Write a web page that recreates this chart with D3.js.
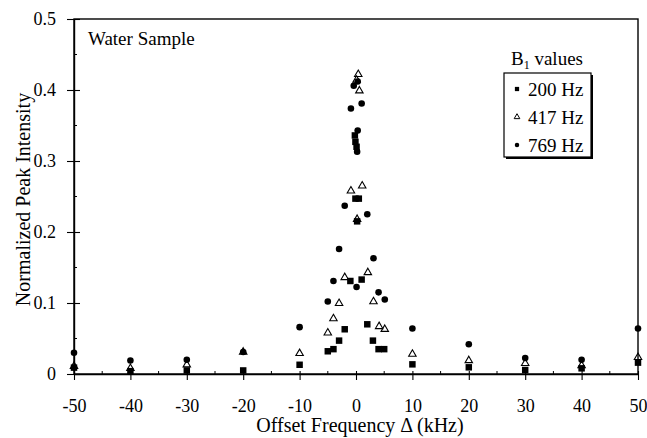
<!DOCTYPE html>
<html>
<head>
<meta charset="utf-8">
<script src="https://cdn.jsdelivr.net/npm/d3@7"></script>
<style>
  body { margin: 0; background: #fff; }
  svg text { font-family: "Liberation Serif", "Times New Roman", Times, serif; fill: #000; }
</style>
</head>
<body>
<div id="chart"></div>
<script>
// B1 = 200 Hz (filled squares)
var offsets200 = [-50, -40, -30, -20, -10, -5, -4, -3, -2, -1, -0.1, 0.5, -0.2, -0.1, 0.1, 0.2, 1, 2, 3, 4, 5, 10, 20, 30, 40, 50];
var values200  = [0.009, 0.004, 0.005, 0.005, 0.013, 0.032, 0.035, 0.047, 0.063, 0.131, 0.247, 0.247, 0.336, 0.327, 0.320, 0.215, 0.133, 0.070, 0.047, 0.035, 0.035, 0.0136, 0.0094, 0.0056, 0.008, 0.016];

// B1 = 417 Hz (open triangles)
var offsets417 = [-50, -40, -30, -20, -10, -5, -4, -3, -2, -0.9, 0.2, 0.1, 0.4, 0.6, 1.1, 2.1, 3.1, 4.1, 5.1, 10, 20, 30, 40, 50];
var values417  = [0.011, 0.008, 0.013, 0.031, 0.029, 0.058, 0.078, 0.0995, 0.136, 0.258, 0.218, 0.414, 0.422, 0.399, 0.265, 0.143, 0.102, 0.067, 0.063, 0.028, 0.019, 0.015, 0.012, 0.0235];

// B1 = 769 Hz (filled circles)
var offsets769 = [-50, -40, -30, -20, -10, -5, -4, -3, -2, -0.9, -0.4, 0.3, 0.3, 0.2, 0.1, 1, 2, 3.1, 4, 5.1, 10, 20, 30, 40, 50];
var values769  = [0.030, 0.019, 0.020, 0.031, 0.066, 0.102, 0.131, 0.176, 0.237, 0.374, 0.406, 0.412, 0.343, 0.313, 0.1225, 0.381, 0.225, 0.163, 0.115, 0.105, 0.064, 0.042, 0.0225, 0.020, 0.064];

var xTicks = [-50, -40, -30, -20, -10, 0, 10, 20, 30, 40, 50];
var yTicks = [0, 0.1, 0.2, 0.3, 0.4, 0.5];
var seriesLabels = ["200 Hz", "417 Hz", "769 Hz"];

var serif = "'Liberation Serif', 'Times New Roman', Times, serif";

var margin = {top: 19, right: 9, bottom: 64, left: 74},
    width = 647 - margin.left - margin.right,
    height = 438 - margin.top - margin.bottom;

var svg = d3.select("#chart").append("svg")
    .attr("width", 647)
    .attr("height", 438)
    .append("g")
    .attr("transform", "translate(" + margin.left + "," + margin.top + ")");

var x = d3.scaleLinear().domain([-50, 50]).range([0, width]);
var y = d3.scaleLinear().domain([0, 0.5]).range([height, 0]);

// frame
svg.append("rect")
    .attr("width", width)
    .attr("height", height)
    .attr("fill", "none")
    .attr("stroke", "#000")
    .attr("stroke-width", 1.4);

// minor ticks (inside only)
var xMinor = d3.range(-45, 50, 10);
svg.selectAll(".xminor")
    .data(xMinor).enter()
    .append("line")
    .attr("x1", function(d) { return x(d) })
    .attr("x2", function(d) { return x(d) })
    .attr("y1", height)
    .attr("y2", height - 3)
    .attr("stroke", "#000");

var yMinor = d3.range(0.05, 0.5, 0.1);
svg.selectAll(".yminor")
    .data(yMinor).enter()
    .append("line")
    .attr("y1", function(d) { return y(d) })
    .attr("y2", function(d) { return y(d) })
    .attr("x1", 0)
    .attr("x2", 3)
    .attr("stroke", "#000");

// major ticks cross the axis lines
var xAxis = svg.append("g")
    .attr("transform", "translate(0," + height + ")")
    .call(d3.axisBottom(x).tickValues(xTicks).tickSizeInner(6).tickSizeOuter(0).tickPadding(19)
          .tickFormat(function(d) { return d3.format("d")(d).replace("\u2212", "-") }));

xAxis.selectAll(".tick").append("line")
    .attr("y2", -3)
    .attr("stroke", "#000");

var yAxis = svg.append("g")
    .call(d3.axisLeft(y).tickValues(yTicks).tickSizeInner(7).tickSizeOuter(0).tickPadding(11)
          .tickFormat(function(d) { return d === 0 ? "0" : d3.format(".1f")(d) }));

yAxis.selectAll(".tick").append("line")
    .attr("x2", 6)
    .attr("stroke", "#000");

xAxis.attr("font-family", serif);
yAxis.attr("font-family", serif);
svg.selectAll(".domain").attr("stroke", "#000").attr("stroke-width", 1.4);
svg.selectAll(".tick line").attr("stroke-width", 1.1);
svg.selectAll(".tick text")
    .attr("font-family", serif)
    .attr("font-size", 18)
    .attr("fill", "#000");

// axis titles
svg.append("text")
    .attr("text-anchor", "middle")
    .attr("font-family", serif)
    .attr("font-size", 20)
    .attr("transform", "translate(" + (x(0.7)) + "," + (height + 58) + ")")
    .text("Offset Frequency \u0394 (kHz)");

svg.append("text")
    .attr("text-anchor", "middle")
    .attr("font-family", serif)
    .attr("font-size", 20)
    .attr("transform", "translate(" + (-44) + "," + (height / 2 + 3) + ") rotate(-90)")
    .text("Normalized Peak Intensity");

svg.append("text")
    .attr("x", 14)
    .attr("y", 26)
    .attr("font-family", serif)
    .attr("font-size", 19)
    .text("Water Sample");

// data points
var symSquare = d3.symbol().type(d3.symbolSquare).size(42);
var symCircle = d3.symbol().type(d3.symbolCircle).size(34);
var symTriangle = d3.symbol().type(d3.symbolTriangle).size(24);

svg.selectAll(".p200")
    .data(offsets200).enter()
    .append("path")
    .attr("d", symSquare)
    .attr("transform", function(d, i) { return "translate(" + x(d) + "," + y(values200[i]) + ")" })
    .attr("fill", "#000");

svg.selectAll(".p769")
    .data(offsets769).enter()
    .append("path")
    .attr("d", symCircle)
    .attr("transform", function(d, i) { return "translate(" + x(d) + "," + y(values769[i]) + ")" })
    .attr("fill", "#000");

svg.selectAll(".p417")
    .data(offsets417).enter()
    .append("path")
    .attr("d", symTriangle)
    .attr("transform", function(d, i) { return "translate(" + x(d) + "," + y(values417[i]) + ")" })
    .attr("fill", "none")
    .attr("stroke", "#000")
    .attr("stroke-width", 1.1);

// legend
var lg = svg.append("g")
    .attr("transform", "translate(" + (504 - margin.left) + "," + (73 - margin.top) + ")");

lg.append("text")
    .attr("x", 7)
    .attr("y", -8)
    .attr("font-family", serif)
    .attr("font-size", 19)
    .html("B<tspan dy='4' font-size='12'>1</tspan><tspan dy='-4'> values</tspan>");

lg.append("rect")
    .attr("x", 2).attr("y", 2)
    .attr("width", 87).attr("height", 84)
    .attr("fill", "#000");
lg.append("rect")
    .attr("width", 87).attr("height", 84)
    .attr("fill", "#fff")
    .attr("stroke", "#000")
    .attr("stroke-width", 1.2);

var legendSyms = [
    d3.symbol().type(d3.symbolSquare).size(18),
    d3.symbol().type(d3.symbolTriangle).size(14),
    d3.symbol().type(d3.symbolCircle).size(16)
];

var items = lg.selectAll(".item")
    .data(seriesLabels).enter()
    .append("g")
    .attr("transform", function(d, i) { return "translate(0," + (16 + i * 28) + ")" });

items.append("path")
    .attr("transform", "translate(13,0)")
    .attr("d", function(d, i) { return legendSyms[i]() })
    .attr("fill", function(d, i) { return i === 1 ? "none" : "#000" })
    .attr("stroke", function(d, i) { return i === 1 ? "#000" : null });

items.append("text")
    .attr("x", 24)
    .attr("y", 7)
    .attr("font-family", serif)
    .attr("font-size", 19)
    .text(function(d) { return d });
</script>
</body>
</html>
